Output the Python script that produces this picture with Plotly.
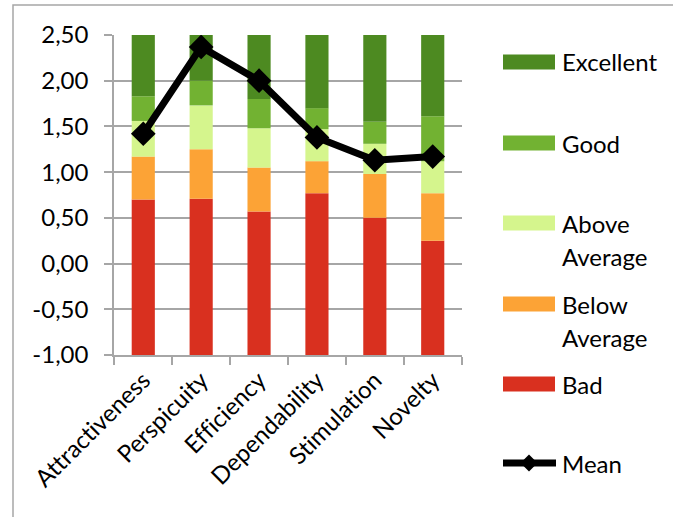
import plotly.graph_objects as go

# UEQ benchmark bands (upper bound of each band per scale) and measured means
scales = ["Attractiveness", "Perspicuity", "Efficiency", "Dependability", "Stimulation", "Novelty"]
bad_upper = [0.70, 0.71, 0.57, 0.77, 0.50, 0.25]
below_upper = [1.17, 1.25, 1.05, 1.12, 0.98, 0.77]
above_upper = [1.56, 1.73, 1.48, 1.47, 1.31, 1.12]
good_upper = [1.83, 2.00, 1.80, 1.70, 1.55, 1.61]
excellent_upper = [2.50, 2.50, 2.50, 2.50, 2.50, 2.50]
mean_values = [1.42, 2.37, 2.00, 1.38, 1.13, 1.17]
axis_min = -1.0
y_ticks = [-1.0, -0.5, 0.0, 0.5, 1.0, 1.5, 2.0, 2.5]

band_names = ["Bad", "Below Average", "Above Average", "Good", "Excellent"]
band_colors = ["#d9301f", "#fca336", "#d5f58d", "#72b232", "#4d8a21"]
band_uppers = [bad_upper, below_upper, above_upper, good_upper, excellent_upper]

W, H = 673, 517
L, R, T, B = 114, 211, 35, 162
PW, PH = W - L - R, H - T - B
FONT = "Lato"
FS = 24
GRID = "#a6a6a6"


def px_x(px):
    return (px - L) / PW


def px_y(py):
    return (H - B - py) / PH


def fmt(v):
    # decimal comma, plain hyphen for negatives
    return f"{v:.2f}".replace(".", ",")


fig = go.Figure()

lower = [axis_min] * len(scales)
for name, color, upper in zip(band_names, band_colors, band_uppers):
    fig.add_trace(go.Bar(
        x=scales,
        y=[u - lo for u, lo in zip(upper, lower)],
        base=lower,
        name=name,
        marker=dict(color=color, line=dict(width=0)),
        width=0.4,
        showlegend=False,
        hoverinfo="skip",
    ))
    lower = upper

fig.add_trace(go.Scatter(
    x=scales,
    y=mean_values,
    name="Mean",
    mode="lines+markers",
    line=dict(color="black", width=7),
    marker=dict(symbol="diamond", size=19, color="black"),
    showlegend=False,
))

shapes = []
annotations = []

# outer chart-area frame (runs off the right and bottom edges)
shapes.append(dict(
    type="rect", xref="paper", yref="paper", layer="below",
    x0=px_x(13), x1=px_x(W + 20), y0=px_y(5), y1=px_y(H + 20),
    line=dict(color=GRID, width=1.5), fillcolor="rgba(0,0,0,0)",
))

# legend, drawn as patches and labels
legend_items = [
    (band_colors[4], 62, ["Excellent"]),
    (band_colors[3], 143, ["Good"]),
    (band_colors[2], 223, ["Above", "Average"]),
    (band_colors[1], 304, ["Below", "Average"]),
    (band_colors[0], 384, ["Bad"]),
]
for color, cy, lines in legend_items:
    shapes.append(dict(
        type="rect", xref="paper", yref="paper",
        x0=px_x(503), x1=px_x(555), y0=px_y(cy - 7.5), y1=px_y(cy + 7.5),
        line=dict(width=0), fillcolor=color,
    ))
    for k, text in enumerate(lines):
        annotations.append(dict(
            xref="paper", yref="paper", x=px_x(560), y=px_y(cy + k * 33),
            xanchor="left", yanchor="middle", text=text, showarrow=False,
            font=dict(family=FONT, size=FS, color="black"),
        ))

mean_y = 463
shapes.append(dict(
    type="line", xref="paper", yref="paper",
    x0=px_x(503), x1=px_x(556), y0=px_y(mean_y), y1=px_y(mean_y),
    line=dict(color="black", width=7),
))
cx = 529
d = 8.5
shapes.append(dict(
    type="path", xref="paper", yref="paper",
    path=(f"M {px_x(cx - d)} {px_y(mean_y)} L {px_x(cx)} {px_y(mean_y - d)} "
          f"L {px_x(cx + d)} {px_y(mean_y)} L {px_x(cx)} {px_y(mean_y + d)} Z"),
    line=dict(width=0), fillcolor="black",
))
annotations.append(dict(
    xref="paper", yref="paper", x=px_x(560), y=px_y(mean_y),
    xanchor="left", yanchor="middle", text="Mean", showarrow=False,
    font=dict(family=FONT, size=FS, color="black"),
))

fig.update_layout(
    width=W, height=H,
    margin=dict(l=L, r=R, t=T, b=B, pad=0),
    paper_bgcolor="white", plot_bgcolor="white",
    barmode="overlay",
    font=dict(family=FONT, size=FS, color="black"),
    shapes=shapes,
    annotations=annotations,
    xaxis=dict(
        type="category",
        tickangle=-45,
        showline=True, linecolor=GRID, linewidth=1.5,
        ticks="outside", ticklen=8, tickcolor=GRID, tickwidth=1.5,
        tickson="boundaries",
        showgrid=False,
        tickfont=dict(family=FONT, size=FS, color="black"),
    ),
    yaxis=dict(
        range=[-1, 2.5],
        tickmode="array",
        tickvals=y_ticks,
        ticktext=[fmt(v) for v in y_ticks],
        showline=True, linecolor=GRID, linewidth=1.5,
        ticks="outside", ticklen=8, tickcolor=GRID, tickwidth=1.5,
        showgrid=True, gridcolor=GRID, gridwidth=1.5,
        zeroline=False,
        ticklabelstandoff=11,
        tickfont=dict(family=FONT, size=FS, color="black"),
    ),
)

# keep letter pairs like "ffi" as separate glyphs
no_ligatures = (
    "var s=document.createElement('style');"
    "s.textContent='svg text{font-variant-ligatures:none;font-feature-settings:\"liga\" 0;}';"
    "document.head.appendChild(s);"
)

fig.write_html("out.html", post_script=no_ligatures)
